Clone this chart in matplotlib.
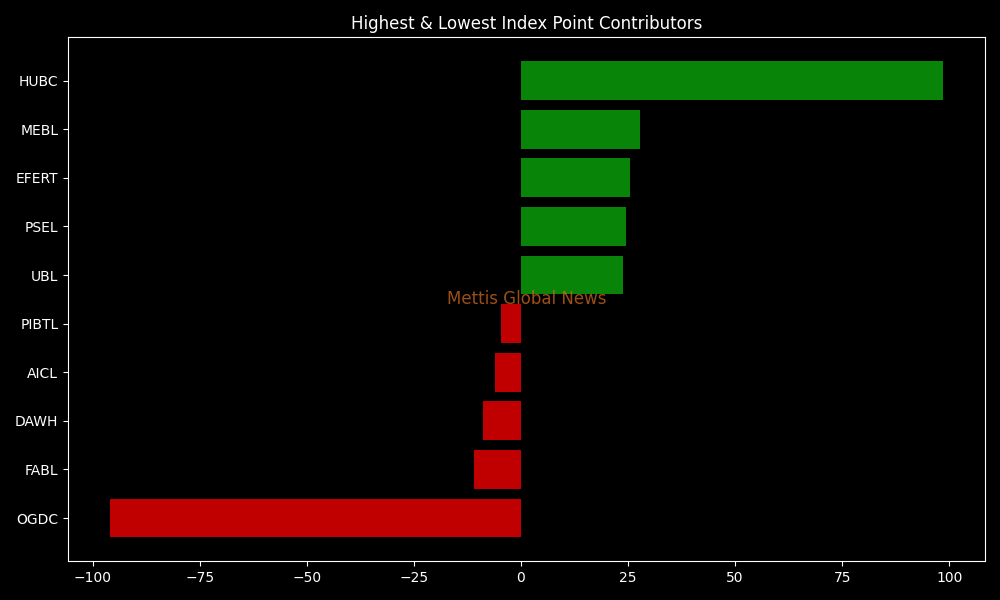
import matplotlib
matplotlib.use("Agg")
import matplotlib.pyplot as plt

# bottom to top
symbols = ["OGDC", "FABL", "DAWH", "AICL", "PIBTL", "UBL", "PSEL", "EFERT", "MEBL", "HUBC"]
points = [-96.0, -11.0, -8.9, -6.1, -4.7, 23.8, 24.5, 25.5, 27.8, 98.6]

plt.style.use("dark_background")
fig, ax = plt.subplots(figsize=(10, 6), dpi=100)

colors = ["#088408" if p > 0 else "#c00000" for p in points]
ax.barh(symbols, points, color=colors)

ax.set_title("Highest & Lowest Index Point Contributors")
ax.text(0.5, 0.5, "Mettis Global News", transform=ax.transAxes,
        ha="center", va="center", fontsize=12, color="chocolate", alpha=0.75)

plt.tight_layout()
plt.savefig("out.png")
